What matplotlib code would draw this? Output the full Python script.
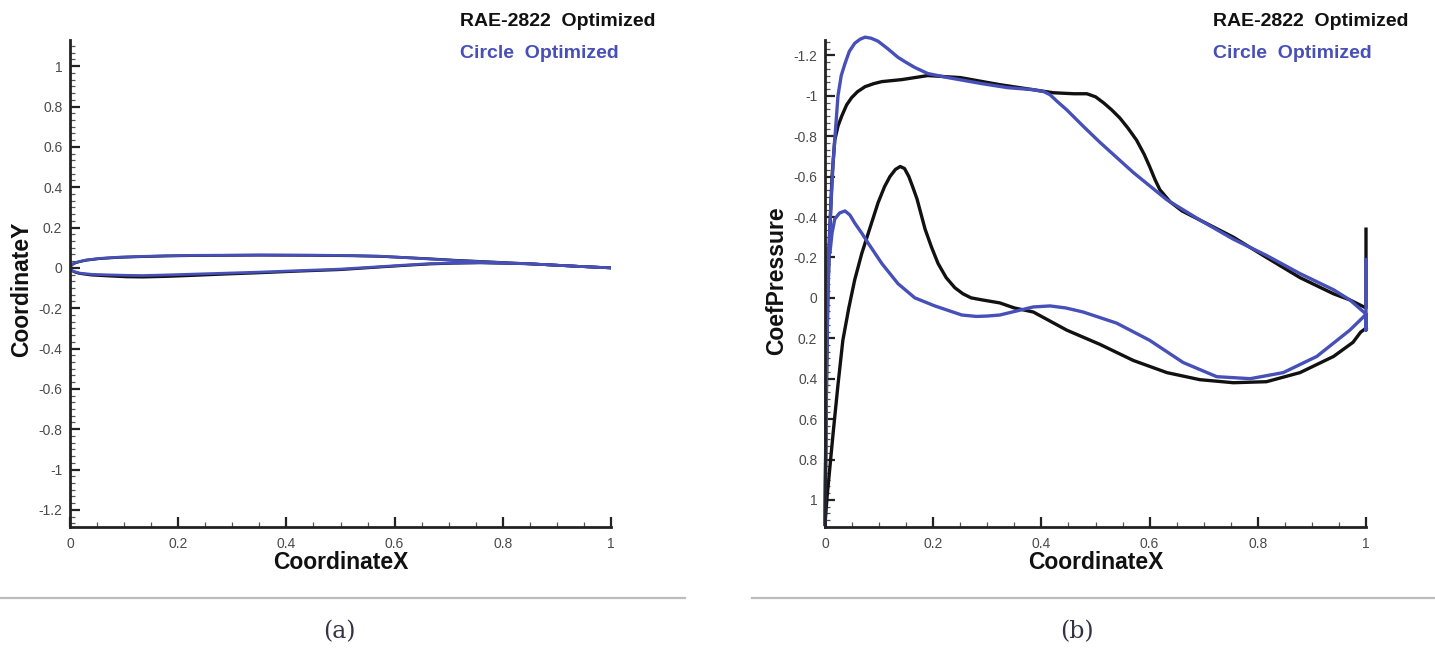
import matplotlib
matplotlib.use('Agg')
import matplotlib.pyplot as plt
from matplotlib.lines import Line2D
from matplotlib.ticker import MultipleLocator, FuncFormatter

plt.rcParams['font.family'] = ['Liberation Sans', 'DejaVu Sans']
plt.rcParams['axes.unicode_minus'] = False

## Airfoil shapes (panel a)
rae_up_x = [0, 0.002, 0.005, 0.01, 0.018, 0.03, 0.055, 0.09, 0.135, 0.18, 0.228, 0.29, 0.35, 0.45,
            0.52, 0.573, 0.62, 0.665, 0.71, 0.758, 0.85, 0.943, 1.0]
rae_up_y = [0, 0.011, 0.018, 0.025, 0.031, 0.038, 0.046, 0.052, 0.056, 0.059, 0.061, 0.062, 0.063,
            0.062, 0.060, 0.057, 0.051, 0.045, 0.038, 0.032, 0.020, 0.007, 0.0]
rae_lo_x = [0, 0.002, 0.005, 0.01, 0.018, 0.04, 0.074, 0.105, 0.135, 0.18, 0.228, 0.29, 0.35, 0.42,
            0.5, 0.573, 0.62, 0.665, 0.71, 0.758, 0.85, 0.943, 1.0]
rae_lo_y = [0, -0.01, -0.016, -0.022, -0.028, -0.036, -0.041, -0.045, -0.046, -0.043, -0.038, -0.031,
            -0.025, -0.017, -0.009, 0.004, 0.012, 0.019, 0.023, 0.025, 0.020, 0.007, 0.0]

circ_up_x = [0, 0.002, 0.005, 0.01, 0.018, 0.03, 0.055, 0.09, 0.135, 0.18, 0.228, 0.29, 0.35, 0.45,
             0.52, 0.573, 0.62, 0.665, 0.71, 0.758, 0.85, 0.943, 1.0]
circ_up_y = [0, 0.012, 0.019, 0.026, 0.032, 0.039, 0.047, 0.053, 0.057, 0.060, 0.062, 0.063, 0.064,
             0.063, 0.061, 0.058, 0.051, 0.044, 0.037, 0.031, 0.020, 0.007, 0.0]
circ_lo_x = [0, 0.002, 0.005, 0.01, 0.018, 0.04, 0.074, 0.105, 0.135, 0.18, 0.228, 0.29, 0.35, 0.42,
             0.5, 0.573, 0.62, 0.665, 0.71, 0.758, 0.85, 0.943, 1.0]
circ_lo_y = [0, -0.009, -0.015, -0.02, -0.026, -0.032, -0.035, -0.037, -0.038, -0.035, -0.031, -0.026,
             -0.021, -0.014, -0.006, 0.006, 0.014, 0.021, 0.024, 0.026, 0.020, 0.007, 0.0]

## Pressure coefficient (panel b)
rae_cp_up_x = [0, 0.002, 0.005, 0.009, 0.013, 0.018, 0.024, 0.031, 0.04, 0.049, 0.06, 0.074, 0.09,
               0.105, 0.142, 0.19, 0.25, 0.323, 0.385, 0.422, 0.46, 0.484, 0.5, 0.515, 0.53, 0.545,
               0.56, 0.576, 0.59, 0.60, 0.61, 0.619, 0.638, 0.66, 0.693, 0.755, 0.816, 0.878, 0.94,
               0.97, 1.0, 1.0]
rae_cp_up = [1.12, 0.6, 0.0, -0.34, -0.6, -0.78, -0.85, -0.90, -0.955, -0.99, -1.02, -1.045, -1.06,
             -1.07, -1.08, -1.10, -1.09, -1.055, -1.03, -1.015, -1.01, -1.01, -0.995, -0.965, -0.93,
             -0.89, -0.84, -0.78, -0.71, -0.65, -0.585, -0.535, -0.475, -0.43, -0.385, -0.30, -0.20,
             -0.10, -0.02, 0.01, 0.05, -0.34]
rae_cp_lo_x = [0, 0.004, 0.009, 0.015, 0.024, 0.033, 0.044, 0.055, 0.068, 0.08, 0.098, 0.11, 0.12,
               0.13, 0.139, 0.147, 0.155, 0.162, 0.17, 0.178, 0.185, 0.197, 0.209, 0.224, 0.24, 0.255,
               0.27, 0.29, 0.323, 0.35, 0.385, 0.447, 0.508, 0.57, 0.632, 0.693, 0.755, 0.816, 0.878,
               0.94, 0.976, 0.99, 1.0]
rae_cp_lo = [1.12, 0.98, 0.84, 0.67, 0.43, 0.21, 0.05, -0.09, -0.22, -0.32, -0.47, -0.55, -0.60,
             -0.635, -0.65, -0.64, -0.60, -0.55, -0.49, -0.41, -0.34, -0.25, -0.17, -0.10, -0.05, -0.02,
             0.0, 0.01, 0.025, 0.05, 0.07, 0.16, 0.23, 0.31, 0.37, 0.405, 0.42, 0.415, 0.37,
             0.29, 0.22, 0.17, 0.15]

circ_cp_up_x = [0, 0.003, 0.008, 0.015, 0.024, 0.03, 0.037, 0.045, 0.055, 0.065, 0.074, 0.085, 0.098,
                0.115, 0.135, 0.15, 0.166, 0.19, 0.227, 0.29, 0.338, 0.385, 0.405, 0.416, 0.43, 0.447,
                0.477, 0.508, 0.57, 0.632, 0.693, 0.755, 0.816, 0.878, 0.94, 0.97, 1.0]
circ_cp_up = [1.12, 0.3, -0.3, -0.67, -1.0, -1.1, -1.16, -1.22, -1.26, -1.28, -1.29, -1.285, -1.27,
              -1.235, -1.19, -1.165, -1.14, -1.11, -1.09, -1.06, -1.04, -1.03, -1.02, -1.005, -0.97,
              -0.93, -0.85, -0.77, -0.62, -0.485, -0.385, -0.29, -0.21, -0.12, -0.04, 0.01, 0.08]
circ_cp_lo_x = [0, 0.002, 0.004, 0.006, 0.009, 0.013, 0.018, 0.027, 0.037, 0.046, 0.055, 0.068, 0.08,
                0.105, 0.135, 0.166, 0.203, 0.253, 0.28, 0.30, 0.323, 0.354, 0.385, 0.416, 0.445,
                0.477, 0.539, 0.60, 0.662, 0.724, 0.786, 0.847, 0.909, 0.97, 0.995, 1.0, 1.0, 1.0]
circ_cp_lo = [1.12, 0.5, -0.1, -0.25, -0.22, -0.32, -0.39, -0.42, -0.43, -0.41, -0.37, -0.32, -0.27,
              -0.17, -0.07, 0.0, 0.04, 0.085, 0.092, 0.09, 0.085, 0.065, 0.045, 0.04, 0.05,
              0.07, 0.125, 0.21, 0.32, 0.39, 0.40, 0.37, 0.29, 0.16, 0.095, 0.08, 0.16, -0.19]

legend_labels = ['RAE-2822  Optimized', 'Circle  Optimized']
captions = ['(a)', '(b)']

BLACK = '#111111'
BLUE = '#4650b8'
W, H = 1435, 648

fig = plt.figure(figsize=(W / 100, H / 100), dpi=100)


def style_axes(ax):
    for side in ['top', 'right']:
        ax.spines[side].set_visible(False)
    for side in ['left', 'bottom']:
        ax.spines[side].set_linewidth(2.0)
        ax.spines[side].set_color('#222222')
    ax.set_xlim(0, 1)
    ax.xaxis.set_major_locator(MultipleLocator(0.2))
    ax.xaxis.set_minor_locator(MultipleLocator(0.05))
    ax.yaxis.set_major_locator(MultipleLocator(0.2))
    ax.yaxis.set_minor_locator(MultipleLocator(0.2 / 6))
    fmt = FuncFormatter(lambda v, p: '%g' % round(v, 2) if abs(v) > 1e-9 else '0')
    ax.xaxis.set_major_formatter(fmt)
    ax.yaxis.set_major_formatter(fmt)
    ax.tick_params(which='major', direction='in', length=7, width=1.6, color='#222222',
                   labelsize=10, labelcolor='#4a4a4a')
    ax.tick_params(axis='x', which='major', pad=7)
    ax.tick_params(axis='y', which='major', pad=5.5)
    ax.tick_params(which='minor', direction='in', length=3.5, width=0.9, color='#555555')
    ax.set_xlabel('CoordinateX', fontsize=16.5, fontweight='bold', color='#111111')
    ax.xaxis.set_label_coords(0.5, -0.05)


# %%
## Panel (a): airfoil shapes
ax1 = fig.add_axes([70 / W, 1 - 527 / H, 541 / W, 487 / H])
style_axes(ax1)
ax1.set_ylim(-1.285, 1.13)
ax1.plot(rae_up_x, rae_up_y, color=BLACK, lw=2.0)
ax1.plot(rae_lo_x, rae_lo_y, color=BLACK, lw=2.0)
ax1.plot(circ_up_x, circ_up_y, color=BLUE, lw=2.0)
ax1.plot(circ_lo_x, circ_lo_y, color=BLUE, lw=2.0)
ax1.set_ylabel('CoordinateY', fontsize=16.5, fontweight='bold', color='#111111')
ax1.yaxis.set_label_coords(-0.069, 0.488)

# %%
## Panel (b): pressure coefficient (inverted axis)
ax2 = fig.add_axes([825 / W, 1 - 527 / H, 541 / W, 487 / H])
style_axes(ax2)
ax2.set_ylim(1.134, -1.276)
ax2.plot(rae_cp_up_x, rae_cp_up, color=BLACK, lw=2.4, clip_on=False)
ax2.plot(rae_cp_lo_x, rae_cp_lo, color=BLACK, lw=2.4, clip_on=False)
ax2.plot(circ_cp_up_x, circ_cp_up, color=BLUE, lw=2.4, clip_on=False)
ax2.plot(circ_cp_lo_x, circ_cp_lo, color=BLUE, lw=2.4, clip_on=False)
ax2.set_ylabel('CoefPressure', fontsize=16.5, fontweight='bold', color='#111111')
ax2.yaxis.set_label_coords(-0.068, 0.505)

## Legend texts (Tecplot style)
for x0 in [460, 1213]:
    fig.text(x0 / W, 1 - 22 / H, legend_labels[0], color=BLACK, fontsize=14, fontweight='bold',
             ha='left', va='center')
    fig.text(x0 / W, 1 - 53 / H, legend_labels[1], color=BLUE, fontsize=14, fontweight='bold',
             ha='left', va='center')

## Separators and captions
fig.add_artist(Line2D([0, 685 / W], [1 - 598 / H] * 2, color='#bdbdbd', lw=1.6))
fig.add_artist(Line2D([752 / W, 1], [1 - 598 / H] * 2, color='#bdbdbd', lw=1.6))
fig.text(339 / W, 1 - 632 / H, captions[0], fontsize=17, family='DejaVu Serif', color='#333344',
         ha='center', va='center')
fig.text(1077 / W, 1 - 632 / H, captions[1], fontsize=17, family='DejaVu Serif', color='#333344',
         ha='center', va='center')

fig.savefig('out.png', dpi=100, facecolor='white')
